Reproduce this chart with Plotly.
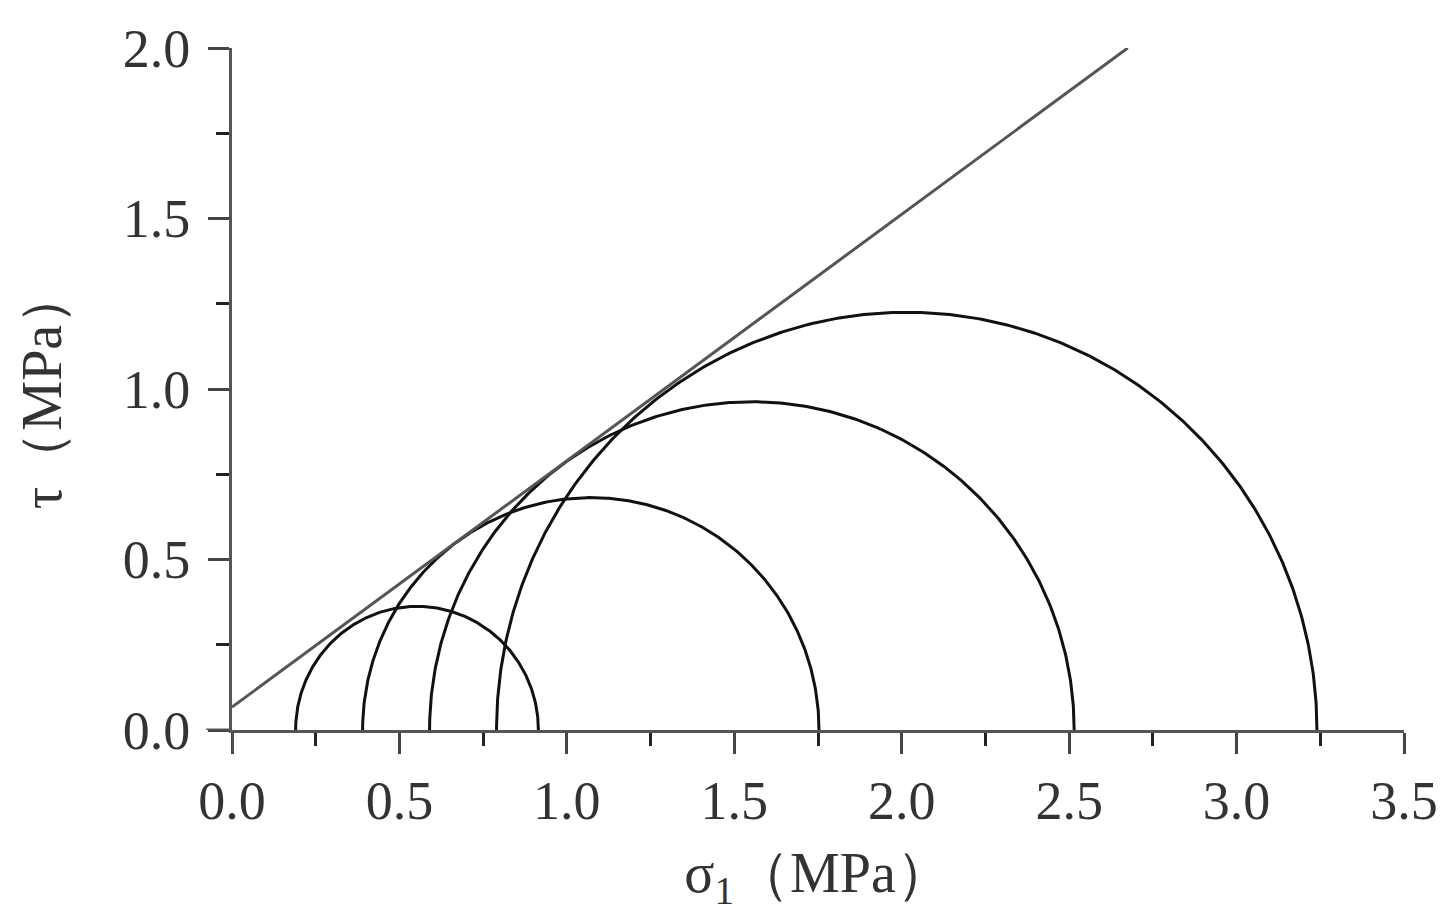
import numpy as np
import plotly.graph_objects as go

# Mohr circles: minor / major principal stresses (MPa)
sigma3 = [0.19, 0.39, 0.59, 0.79]
sigma1 = [0.915, 1.753, 2.515, 3.24]

# Strength envelope endpoints (sigma, tau)
env_x = [0.0, 2.675]
env_y = [0.067, 2.0]

x_ticks = [0.0, 0.5, 1.0, 1.5, 2.0, 2.5, 3.0, 3.5]
y_ticks = [0.0, 0.5, 1.0, 1.5, 2.0]

FONT = "Liberation Serif, Times New Roman, serif"

fig = go.Figure()

theta = np.linspace(0, np.pi, 361)
for s3, s1 in zip(sigma3, sigma1):
    c = (s1 + s3) / 2
    r = (s1 - s3) / 2
    fig.add_trace(go.Scatter(
        x=c + r * np.cos(theta), y=r * np.sin(theta),
        mode="lines", line=dict(color="#111111", width=3),
        showlegend=False, hoverinfo="skip"))

fig.add_trace(go.Scatter(
    x=env_x, y=env_y, mode="lines",
    line=dict(color="#555555", width=3),
    showlegend=False, hoverinfo="skip"))

axis_common = dict(
    showgrid=False, zeroline=False, showline=True,
    linecolor="#555555", linewidth=3,
    ticks="outside", tickcolor="#444444", tickwidth=3, ticklen=21,
    tickformat=".1f",
    tickfont=dict(family=FONT, size=54, color="#333333"),
    title_font=dict(family=FONT, size=56, color="#333333"),
)

fig.update_xaxes(
    range=[0, 3.5], tickvals=x_ticks,
    minor=dict(dtick=0.25, tick0=0, ticks="outside", ticklen=13,
               tickwidth=3, tickcolor="#222222"),
    title=dict(text="σ<sub>1</sub>（MPa）", standoff=24),
    ticklabelstandoff=0,
    **axis_common)
fig.update_yaxes(
    range=[0, 2.0], tickvals=y_ticks,
    minor=dict(dtick=0.25, tick0=0, ticks="outside", ticklen=13,
               tickwidth=3, tickcolor="#222222"),
    title=dict(text="τ（MPa）", standoff=44),
    ticklabelstandoff=7,
    **axis_common)

# axis extensions past the origin
fig.add_shape(type="line", xref="x domain", yref="y",
              x0=-0.022, x1=0, y0=0, y1=0,
              line=dict(color="#555555", width=3))
fig.add_shape(type="line", xref="x", yref="y domain",
              x0=0, x1=0, y0=-0.033, y1=0,
              line=dict(color="#555555", width=3))

fig.update_layout(
    width=1455, height=923,
    margin=dict(l=224, r=59, t=40, b=201),
    plot_bgcolor="white", paper_bgcolor="white",
)

fig.write_html("out.html")
